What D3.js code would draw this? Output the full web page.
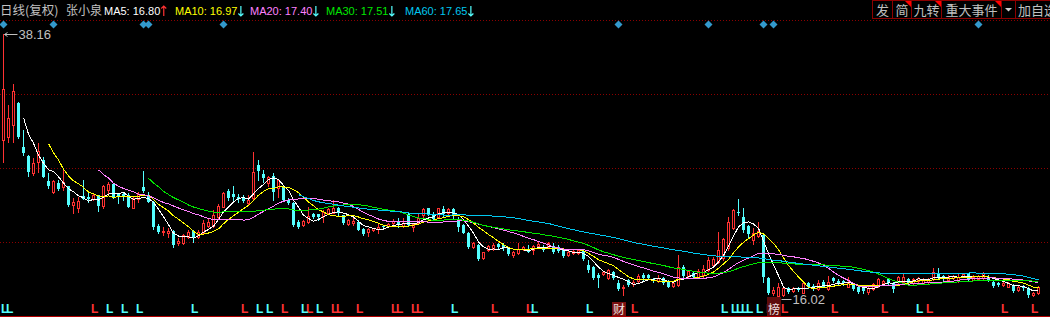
<!DOCTYPE html>
<html>
<head>
<meta charset="utf-8">
<script src="https://d3js.org/d3.v7.min.js"></script>
<style>
  body { margin: 0; background: #000; overflow: hidden; }
  svg { display: block; }
</style>
</head>
<body>
<script>
var width = 1050, height = 317;

// daily K-line (forward adjusted), oldest first
var open = [
  29.30,29.56,30.55,32.40,28.72,27.97,26.55,27.46,27.63,25.88,
  24.96,25.71,25.38,25.46,23.87,23.62,24.62,24.54,24.37,24.71,
  23.79,25.13,25.63,24.79,24.79,24.71,23.62,24.37,25.38,24.71,
  24.12,22.12,21.61,21.53,21.70,20.70,20.70,21.20,21.70,21.20,
  21.53,22.12,22.12,22.87,23.70,25.04,24.79,24.54,24.54,24.04,
  24.46,27.21,26.46,25.71,26.30,25.29,25.46,24.29,24.04,22.45,
  22.20,22.45,23.12,23.12,22.95,23.20,23.20,23.62,23.03,22.29,
  22.37,22.45,21.87,21.61,21.78,21.87,22.12,22.12,22.37,22.54,
  22.12,23.12,22.03,22.37,23.03,23.62,23.12,22.87,23.54,23.20,
  23.54,22.70,22.20,21.53,20.36,20.53,19.45,20.11,20.20,20.62,
  20.53,20.28,19.70,19.86,20.20,20.20,20.11,20.45,20.36,20.36,
  20.45,20.36,20.20,19.70,19.86,19.86,20.03,18.86,18.69,18.02,
  18.11,17.77,18.27,17.36,16.94,17.61,17.28,17.53,18.02,18.02,
  17.69,17.53,17.77,17.44,17.11,17.19,18.69,17.94,18.19,17.86,
  18.02,18.44,18.86,19.11,19.45,20.28,21.95,23.28,22.87,22.12,
  20.95,21.28,21.36,17.77,16.52,16.27,16.36,16.94,16.69,16.94,
  16.52,17.36,17.11,16.86,17.44,16.86,17.77,17.53,17.53,17.02,
  17.19,17.02,16.94,16.61,16.86,17.11,17.36,17.69,17.36,17.44,
  17.44,17.69,17.36,17.53,17.36,17.44,17.69,18.19,17.94,17.61,
  17.77,17.61,17.94,18.19,17.61,17.69,17.77,17.86,17.44,17.36,
  17.19,17.02,17.19,16.77,17.02,16.94,16.36,16.52
];
var high = [
  38.16,32.23,33.98,32.45,30.14,28.05,27.80,29.05,27.88,26.55,
  25.96,25.96,26.80,25.50,24.46,24.54,25.96,24.88,24.88,24.75,
  25.54,25.79,25.71,24.88,24.96,24.88,24.54,24.96,26.71,24.96,
  24.21,22.29,22.03,21.95,21.78,21.11,21.45,21.78,21.78,21.78,
  22.62,22.70,23.45,23.96,24.96,25.21,25.46,24.79,24.71,24.71,
  28.30,27.63,26.80,26.30,26.55,26.05,25.54,24.46,24.12,22.62,
  22.62,23.70,23.20,23.14,23.45,23.62,24.29,23.70,23.05,22.70,
  22.87,22.62,21.95,21.95,21.97,22.37,22.20,22.37,22.70,22.79,
  22.79,23.20,22.37,23.12,23.62,23.64,23.28,23.64,23.79,23.62,
  23.62,22.87,22.29,21.61,20.78,20.62,19.97,20.53,20.70,20.70,
  20.70,20.36,20.03,20.70,20.45,20.53,20.53,20.78,20.53,20.78,
  20.70,20.53,20.28,20.03,20.11,20.20,20.11,19.28,18.78,18.19,
  18.36,18.52,18.36,17.61,17.19,17.69,17.61,18.11,18.19,18.11,
  17.77,18.02,17.86,17.61,17.44,19.70,18.86,18.44,18.27,18.52,
  18.86,19.53,19.53,21.61,21.11,22.87,23.54,24.37,23.62,22.20,
  21.95,22.45,21.53,17.86,17.02,17.36,17.02,17.02,17.02,17.02,
  17.44,17.44,17.28,17.61,17.61,17.94,17.86,17.69,17.61,17.86,
  17.36,17.11,17.02,17.02,17.36,17.77,17.61,17.77,17.44,17.94,
  18.19,17.77,17.77,17.86,17.77,17.77,18.61,18.61,18.02,18.02,
  18.02,18.19,18.19,18.21,18.02,18.02,18.27,18.02,17.61,17.44,
  17.44,17.44,17.28,17.11,17.19,17.02,16.61,17.11
];
var low = [
  27.46,29.13,29.13,29.50,28.05,26.30,26.38,26.63,26.20,25.29,
  24.88,25.13,25.13,23.79,23.20,23.28,24.35,24.12,24.29,23.37,
  23.62,24.88,24.46,24.04,24.29,23.68,23.60,24.12,24.96,24.10,
  21.87,21.53,21.36,21.20,20.36,20.53,20.62,21.11,20.78,21.11,
  21.45,22.03,22.03,22.79,23.68,24.29,24.29,24.12,24.12,23.96,
  24.29,25.96,25.79,25.46,24.29,24.54,24.21,23.96,22.12,21.95,
  22.12,22.37,22.79,22.62,22.45,23.18,23.18,22.95,22.29,22.20,
  22.20,21.76,21.36,21.28,21.70,21.53,21.87,22.03,22.29,22.03,
  22.03,22.12,21.70,22.35,22.79,23.03,22.62,22.79,22.87,23.12,
  22.79,21.70,21.51,20.28,20.28,19.28,19.36,20.03,20.11,20.20,
  20.11,19.70,19.53,19.78,20.11,19.93,19.78,20.36,20.03,20.34,
  19.86,19.95,19.53,19.61,19.78,19.78,19.28,18.27,17.69,17.02,
  18.02,17.69,17.69,16.77,16.36,17.11,17.11,17.44,17.61,17.69,
  17.44,17.44,17.28,17.00,17.02,17.11,17.86,17.86,17.84,17.84,
  17.86,18.36,18.78,19.03,19.28,20.11,21.87,23.03,21.61,21.20,
  20.62,21.20,17.44,16.44,16.36,16.02,16.27,16.52,16.61,16.69,
  16.50,16.94,16.77,16.77,17.00,16.77,17.44,17.19,17.19,17.00,
  16.77,16.52,16.52,16.44,16.77,17.02,17.34,17.19,16.61,17.36,
  17.36,17.19,17.19,17.44,17.34,17.36,17.61,17.69,17.61,17.59,
  17.69,17.44,17.86,17.53,17.59,17.61,17.69,17.53,17.02,17.11,
  17.11,17.00,16.61,16.69,16.77,16.19,16.27,16.44
];
var close = [
  33.56,31.14,33.40,29.56,28.22,26.63,27.38,28.39,26.22,25.46,
  25.88,25.21,25.79,23.87,24.12,24.21,24.37,24.37,24.71,23.79,
  25.46,25.63,24.54,24.54,24.54,23.70,24.46,24.79,25.04,24.12,
  22.03,21.61,21.70,21.70,20.53,20.87,21.36,21.61,21.11,21.61,
  22.37,22.45,23.03,23.79,24.88,24.46,24.54,24.37,24.21,24.29,
  26.63,26.71,26.13,26.22,24.96,25.96,24.29,24.04,22.20,22.03,
  22.54,22.95,22.87,22.87,23.28,23.54,23.62,23.20,22.37,22.62,
  22.54,21.78,21.45,21.87,21.95,22.03,22.03,22.29,22.54,22.29,
  22.37,22.20,22.29,22.79,23.54,23.12,22.70,23.62,23.12,23.54,
  23.03,22.03,21.53,20.36,20.70,19.36,19.95,20.45,20.53,20.36,
  20.28,19.78,19.95,20.20,20.36,19.95,20.45,20.62,20.11,20.70,
  19.95,20.03,19.61,19.95,20.03,20.11,19.36,18.44,17.77,17.77,
  18.27,18.44,17.77,16.86,17.02,17.19,17.44,17.94,17.77,17.77,
  17.53,17.77,17.36,17.02,17.36,18.69,17.94,18.36,17.86,18.36,
  18.52,19.28,19.36,20.11,21.03,22.45,23.45,23.20,21.78,21.45,
  21.53,21.70,17.86,16.52,16.77,17.02,16.94,16.61,16.94,16.77,
  17.36,17.02,16.86,17.36,17.02,17.44,17.53,17.36,17.36,17.44,
  16.86,16.61,16.69,16.94,17.28,17.69,17.53,17.36,16.86,17.86,
  17.86,17.36,17.69,17.77,17.61,17.69,18.27,17.77,17.69,17.86,
  17.94,17.86,18.11,17.61,17.86,17.94,18.19,17.61,17.11,17.19,
  17.36,17.36,16.69,17.02,16.94,16.33,16.55,17.05
];

var maPeriods = [5, 10, 20, 30, 60];
var maNames = ["MA5", "MA10", "MA20", "MA30", "MA60"];
var maColors = ["#ffffff", "#ffff00", "#ff80ff", "#00e600", "#00c8f0"];
var maLast = ["16.80", "16.97", "17.40", "17.51", "17.65"];
var maUp = [true, false, false, false, false];

var eventDays = [0, 10, 28, 29, 44, 123, 141, 152, 154, 195];   // blue diamonds
var redL = [18, 48, 56, 61, 66, 67, 71, 78, 79, 82, 83, 98, 105, 126, 153, 156, 166, 176, 185, 200, 206];
var cyanL = [0, 1, 21, 24, 27, 38, 51, 53, 60, 63, 90, 106, 117, 144, 146, 147, 148, 149, 151, 183];
var tagDays = [123, 154];
var tagText = ["财", "榜"];
var btnText = ["发", "简", "九转", "重大事件", "", "加自选"];
var btnWidth = [20, 19, 30, 60, 14, 40];
var btnFlag = [false, true, true, true, false, false];

var N = close.length;
var UP = "#ff3232", DOWN = "#54ffff", GRID = "#8c0000", TXT = "#c0c0c0";
var cjk = "'Noto Sans CJK SC', sans-serif";
var latin = "'Liberation Sans', Arial, sans-serif";

var svg = d3.select("body").append("svg")
  .attr("width", width).attr("height", height)
  .style("background", "#000");

var x = d3.scaleBand().domain(d3.range(N)).range([0, 5 * N]);
var y = d3.scaleLinear().domain([16.02, 38.16]).range([299, 34]);
var left = i => x(i) + 2;
var mid = i => x(i) + 3.5;

// grid
svg.append("g").selectAll("line")
  .data([20, 94, 168, 242])
  .enter().append("line")
  .attr("x1", 0).attr("x2", width)
  .attr("y1", d => d + 0.5).attr("y2", d => d + 0.5)
  .attr("stroke", GRID).attr("stroke-dasharray", "1,2");
svg.append("line")
  .attr("x1", 0).attr("x2", width).attr("y1", 316.5).attr("y2", 316.5)
  .attr("stroke", "#b00000");

// candles
var days = d3.range(N);
var k = svg.append("g").attr("shape-rendering", "crispEdges");
k.selectAll(".wick").data(days).enter().append("line")
  .attr("x1", i => left(i) + 1.5).attr("x2", i => left(i) + 1.5)
  .attr("y1", i => Math.round(y(high[i]))).attr("y2", i => Math.round(y(low[i])) + 1)
  .attr("stroke", i => close[i] >= open[i] ? UP : DOWN);
k.selectAll(".body").data(days).enter().append("path")
  .attr("d", i => {
    var t = Math.round(y(Math.max(open[i], close[i])));
    var b = Math.round(y(Math.min(open[i], close[i])));
    if (close[i] >= open[i]) {
      return "M" + (left(i) + 0.5) + "," + (t + 0.5) + "h2V" + (b + 0.5) + "h-2Z";
    }
    return "M" + left(i) + "," + t + "h3V" + Math.max(b, t + 1) + "h-3Z";
  })
  .attr("fill", i => close[i] >= open[i] ? "#000" : DOWN)
  .attr("stroke", i => close[i] >= open[i] ? UP : "none");

// moving averages
var line = d3.line().defined(d => d[1] != null).x(d => mid(d[0])).y(d => y(d[1]));
maPeriods.forEach((p, j) => {
  var pts = days.map(i => [i, i >= p - 1 ? d3.mean(close.slice(i - p + 1, i + 1)) : null]);
  svg.append("path").datum(pts)
    .attr("d", line).attr("fill", "none")
    .attr("stroke", maColors[j]).attr("stroke-width", 1)
    .attr("shape-rendering", "crispEdges");
});

// event diamonds
svg.append("g").selectAll("path").data(eventDays).enter().append("path")
  .attr("d", i => "M" + mid(i) + ",20.5l4,4l-4,4l-4,-4Z")
  .attr("fill", "#3399cc");

// signal letters
svg.append("g").selectAll("text").data(redL.map(i => [i, UP]).concat(cyanL.map(i => [i, DOWN])))
  .enter().append("text")
  .attr("x", d => left(d[0]) - 1).attr("y", 313)
  .attr("fill", d => d[1])
  .style("font", "bold 12px " + latin)
  .text("L");

// tags
tagDays.forEach((d, j) => {
  var g = svg.append("g");
  var top = j === 0 ? 302 : 297;
  g.append("rect").attr("x", mid(d) - 6.5).attr("y", top).attr("width", 14).attr("height", 316 - top)
    .attr("fill", j === 0 ? "#7a1010" : "#5e0b0b");
  g.append("text").attr("x", mid(d) + 0.5).attr("y", 314).attr("text-anchor", "middle")
    .attr("fill", "#f0e0e0").style("font", "12px " + cjk).text(tagText[j]);
});

// extreme labels
var hiIdx = d3.maxIndex(high), loIdx = d3.minIndex(low);
svg.append("path")
  .attr("d", "M" + (mid(hiIdx) + 1) + "," + (y(high[hiIdx]) + 0.5) + "h13M" + (mid(hiIdx) + 1) + "," + (y(high[hiIdx]) + 0.5) + "l3,-2M" + (mid(hiIdx) + 1) + "," + (y(high[hiIdx]) + 0.5) + "l3,2")
  .attr("stroke", TXT).attr("fill", "none");
svg.append("text").attr("x", mid(hiIdx) + 15).attr("y", y(high[hiIdx]) + 5)
  .attr("fill", TXT).style("font", "13px " + latin).text(high[hiIdx].toFixed(2));
svg.append("line")
  .attr("x1", mid(loIdx) + 3).attr("x2", mid(loIdx) + 13)
  .attr("y1", y(low[loIdx]) + 0.5).attr("y2", y(low[loIdx]) + 0.5)
  .attr("stroke", TXT);
svg.append("text").attr("x", mid(loIdx) + 14).attr("y", y(low[loIdx]) + 5)
  .attr("fill", TXT).style("font", "13px " + latin).text(low[loIdx].toFixed(2));

// header
function put(str, px, color, font) {
  var t = svg.append("text").attr("x", px).attr("y", 15)
    .attr("fill", color).style("font", font).text(str);
  return px + t.node().getComputedTextLength();
}
put("日线(复权)", 0, TXT, "12.5px " + cjk);
put("张小泉", 66, TXT, "12px " + cjk);
var maX = [104, 175, 250, 326, 405];
maNames.forEach((n, j) => {
  var end = put(n + ": " + maLast[j], maX[j], maColors[j], "11px " + latin);
  var ax = end + 3.5;
  svg.append("path")
    .attr("d", maUp[j]
      ? "M" + ax + ",6V16M" + (ax - 2.5) + ",8.5L" + ax + ",6L" + (ax + 2.5) + ",8.5"
      : "M" + ax + ",6V16M" + (ax - 2.5) + ",13.5L" + ax + ",16L" + (ax + 2.5) + ",13.5")
    .attr("fill", "none").attr("stroke", maUp[j] ? UP : DOWN).attr("stroke-width", 1.2);
});

// buttons
var bx = 872;
btnText.forEach((s, j) => {
  var w = btnWidth[j];
  svg.append("rect").attr("x", bx + 0.5).attr("y", 0.5).attr("width", w).attr("height", 18)
    .attr("fill", "#000").attr("stroke", "#8c0000");
  if (s) {
    svg.append("text").attr("x", j === 5 ? bx + 3 : bx + w / 2 + 0.5).attr("y", 15)
      .attr("text-anchor", j === 5 ? "start" : "middle")
      .attr("fill", TXT).style("font", "13px " + cjk).text(s);
  } else {
    svg.append("path").attr("d", "M" + (bx + 4) + ",8h7l-3.5,3.5Z").attr("fill", "#d0d0d0");
  }
  if (btnFlag[j]) {
    svg.append("path").attr("d", "M" + (bx + w - 6) + ",1h7v7Z").attr("fill", "#ff0000");
  }
  bx += w;
});
</script>
</body>
</html>
